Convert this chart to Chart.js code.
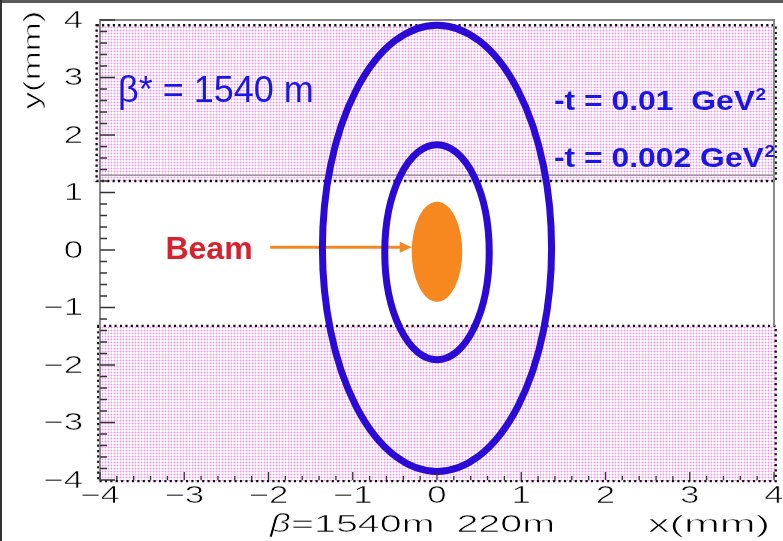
<!DOCTYPE html>
<html>
<head>
<meta charset="utf-8">
<script src="https://cdn.jsdelivr.net/npm/chart.js@4/dist/chart.umd.min.js"></script>
<style>
  html, body { margin: 0; padding: 0; background: #ffffff; }
  #wrap { width: 783px; height: 541px; position: relative; }
</style>
</head>
<body>
<div id="wrap"><canvas id="c" width="783" height="541"></canvas></div>
<script>
// Axis ticks (mm) and their printed labels
const tickValues = [-4, -3, -2, -1, 0, 1, 2, 3, 4];
const tickLabels = ['\u22124', '\u22123', '\u22122', '\u22121', '0', '1', '2', '3', '4'];

// Acceptance contours for the two -t values (half-axes and centre, mm)
const tLabels = ['0.01', '0.002'];
const contourHalfX = [1.36, 0.62];
const contourHalfY = [3.88, 1.87];
const contourCenterY = [0.03, -0.04];

// Beam spot (half-axes and centre, mm)
const beamHalfX = [0.30];
const beamHalfY = [0.87];
const beamCenterY = [-0.03];

// Shaded regions covered by the detectors (y limits, mm)
const shadeYFrom = [1.20, -4.02];
const shadeYTo = [3.91, -1.32];
const shadeXFrom = [-4.04, -4.02];
const shadeXTo = [4.02, 4.02];

const BLUE = '#2a0ad4';
const TEXT_BLUE = '#1a16e6';
const ORANGE = '#f7871f';
const AXIS_FONT = '24px "Liberation Sans", Arial, sans-serif';
const STRETCH = 1.45;

function makePinkPattern(ctx) {
  const t = document.createElement('canvas');
  t.width = 3; t.height = 3;
  const g = t.getContext('2d');
  g.fillStyle = '#ffffff'; g.fillRect(0, 0, 3, 3);
  g.fillStyle = '#fad6fa'; g.fillRect(0, 0, 3, 1); g.fillRect(0, 0, 1, 3);
  g.fillStyle = '#f48cf4'; g.fillRect(0, 0, 1, 1);
  return ctx.createPattern(t, 'repeat');
}

// Horizontally widened, thin-stroked text (axis lettering)
function wideText(ctx, text, x, y, align, sx, thin) {
  ctx.save();
  ctx.translate(x, y);
  ctx.scale(sx, 1);
  ctx.textAlign = align;
  ctx.fillText(text, 0, 0);
  ctx.strokeStyle = '#ffffff';
  ctx.lineWidth = thin === undefined ? 0.6 : thin;
  if (ctx.lineWidth > 0) ctx.strokeText(text, 0, 0);
  ctx.restore();
}

// Same, squeezed or widened to span a given width
function fitText(ctx, text, x0, x1, y) {
  const w = ctx.measureText(text).width;
  wideText(ctx, text, x0, y, 'left', (x1 - x0) / w);
}

const scenePlugin = {
  id: 'scene',
  beforeDatasetsDraw(chart) {
    const ctx = chart.ctx;
    const xs = chart.scales.x, ys = chart.scales.y;
    const X = v => xs.getPixelForValue(v);
    const Y = v => ys.getPixelForValue(v);

    // shaded detector regions
    const pat = makePinkPattern(ctx);
    for (let i = 0; i < shadeYFrom.length; i++) {
      const x0 = X(shadeXFrom[i]), x1 = X(shadeXTo[i]);
      const y0 = Y(shadeYTo[i]), y1 = Y(shadeYFrom[i]);
      ctx.save();
      ctx.fillStyle = pat;
      ctx.fillRect(x0, y0, x1 - x0, y1 - y0);
      ctx.restore();
    }
    // inner frame line of the upper region
    ctx.save();
    ctx.strokeStyle = '#9a9a9a';
    ctx.lineWidth = 1.5;
    ctx.beginPath();
    ctx.moveTo(X(-4), Y(1.30)); ctx.lineTo(X(4), Y(1.30));
    ctx.stroke();
    ctx.restore();
    // dotted outlines of the regions
    for (let i = 0; i < shadeYFrom.length; i++) {
      const x0 = X(shadeXFrom[i]), x1 = X(shadeXTo[i]);
      const y0 = Y(shadeYTo[i]), y1 = Y(shadeYFrom[i]);
      ctx.save();
      ctx.strokeStyle = '#111111';
      ctx.lineWidth = 2.4;
      ctx.setLineDash([2.2, 3.2]);
      ctx.strokeRect(x0, y0, x1 - x0, y1 - y0);
      ctx.restore();
    }

    // beam spot
    ctx.save();
    ctx.fillStyle = ORANGE;
    ctx.beginPath();
    ctx.ellipse(X(0), Y(beamCenterY[0]),
      X(beamHalfX[0]) - X(0), Y(0) - Y(beamHalfY[0]), 0, 0, Math.PI * 2);
    ctx.fill();
    ctx.restore();

    // arrow pointing at the beam
    const ay = Y(0.05);
    const ax0 = X(-1.98), ax1 = X(-beamHalfX[0]);
    ctx.save();
    ctx.strokeStyle = '#f08a24';
    ctx.fillStyle = '#f08a24';
    ctx.lineWidth = 3;
    ctx.beginPath();
    ctx.moveTo(ax0, ay); ctx.lineTo(ax1 - 10, ay);
    ctx.stroke();
    ctx.beginPath();
    ctx.moveTo(ax1, ay);
    ctx.lineTo(ax1 - 12, ay - 5.5);
    ctx.lineTo(ax1 - 12, ay + 5.5);
    ctx.closePath();
    ctx.fill();
    ctx.restore();

    // contours
    for (let i = 0; i < contourHalfX.length; i++) {
      ctx.save();
      ctx.strokeStyle = BLUE;
      ctx.lineWidth = 7;
      ctx.beginPath();
      ctx.ellipse(X(0), Y(contourCenterY[i]),
        X(contourHalfX[i]) - X(0), Y(0) - Y(contourHalfY[i]), 0, 0, Math.PI * 2);
      ctx.stroke();
      ctx.restore();
    }
  },
  afterDraw(chart) {
    const ctx = chart.ctx;
    const xs = chart.scales.x, ys = chart.scales.y;
    const X = v => xs.getPixelForValue(v);
    const Y = v => ys.getPixelForValue(v);
    const a = chart.chartArea;

    // frame
    ctx.save();
    ctx.strokeStyle = '#8a8a8a';
    ctx.lineWidth = 2;
    ctx.beginPath();
    ctx.moveTo(a.left, a.bottom); ctx.lineTo(a.left, a.top);
    ctx.lineTo(a.right, a.top); ctx.lineTo(a.right, Y(-1.32));
    ctx.stroke();
    ctx.restore();

    // inward ticks, major every 1 mm, minor every 0.2 mm
    ctx.save();
    ctx.strokeStyle = '#333333';
    ctx.lineWidth = 1.3;
    ctx.beginPath();
    for (let k = -20; k <= 20; k++) {
      const v = k / 5;
      const major = k % 5 === 0;
      const py = Y(v);
      ctx.moveTo(a.left, py); ctx.lineTo(a.left + (major ? 15 : 7), py);
      const pxv = X(v);
      ctx.moveTo(pxv, a.bottom); ctx.lineTo(pxv, a.bottom - (major ? 8 : 4));
    }
    ctx.stroke();
    ctx.restore();

    // tick labels from the axis ticks
    ctx.save();
    ctx.fillStyle = '#000000';
    ctx.font = AXIS_FONT;
    ctx.textBaseline = 'middle';
    ys.ticks.forEach(t => {
      const i = tickValues.indexOf(t.value);
      if (i >= 0) wideText(ctx, tickLabels[i], 83, ys.getPixelForValue(t.value) + 1, 'right', STRETCH);
    });
    xs.ticks.forEach(t => {
      const i = tickValues.indexOf(t.value);
      if (i >= 0) wideText(ctx, tickLabels[i], xs.getPixelForValue(t.value), a.bottom + 16, 'center', STRETCH);
    });
    ctx.restore();

    // axis titles
    ctx.save();
    ctx.fillStyle = '#000000';
    ctx.font = AXIS_FONT;
    ctx.textBaseline = 'alphabetic';
    fitText(ctx, 'x(mm)', 648, 770, 532);
    ctx.save();
    ctx.font = 'italic 25px "Liberation Sans", Arial, sans-serif';
    wideText(ctx, '\u03b2', 270, 532, 'left', 1.45);
    ctx.restore();
    fitText(ctx, '=1540m  220m', 291, 555, 532);
    ctx.translate(40, 60);
    ctx.rotate(-Math.PI / 2);
    wideText(ctx, 'y(mm)', 0, 0, 'center', STRETCH);
    ctx.restore();

    // annotations
    ctx.save();
    ctx.fillStyle = TEXT_BLUE;
    ctx.font = '36px "Liberation Sans", Arial, sans-serif';
    ctx.textBaseline = 'alphabetic';
    ctx.textAlign = 'left';
    ctx.fillText('\u03b2* = 1540 m', 118, 102);

    const tLines = ['-t = ' + tLabels[0] + '  GeV', '-t = ' + tLabels[1] + ' GeV'];
    const tBase = [110, 167];
    tLines.forEach((s, i) => {
      ctx.save();
      ctx.font = 'bold 27px "Liberation Sans", Arial, sans-serif';
      ctx.translate(554, tBase[i]);
      ctx.scale(1.18, 1);
      ctx.fillText(s, 0, 0);
      const w = ctx.measureText(s).width;
      ctx.font = 'bold 16px "Liberation Sans", Arial, sans-serif';
      ctx.fillText('2', w + 0.5, -10);
      ctx.restore();
    });

    ctx.fillStyle = '#d8202e';
    ctx.font = 'bold 32px "Liberation Sans", Arial, sans-serif';
    ctx.textAlign = 'center';
    ctx.fillText('Beam', 209, 259);
    ctx.restore();

    // outer picture border
    ctx.save();
    ctx.fillStyle = '#5a5a5a';
    ctx.fillRect(0, 0, chart.width, 3);
    ctx.fillStyle = '#333333';
    ctx.fillRect(0, 0, 2, chart.height);
    ctx.restore();
  }
};

new Chart(document.getElementById('c'), {
  type: 'scatter',
  data: { datasets: [] },
  options: {
    responsive: false,
    animation: false,
    events: [],
    layout: { padding: { left: 0, right: 9, top: 20, bottom: 0 } },
    plugins: { legend: { display: false }, tooltip: { enabled: false } },
    scales: {
      x: {
        type: 'linear', min: -4, max: 4,
        ticks: { display: false, stepSize: 1 },
        grid: { display: false, drawTicks: false },
        border: { display: false },
        afterFit(s) { s.height = 61; }
      },
      y: {
        type: 'linear', min: -4, max: 4,
        ticks: { display: false, stepSize: 1 },
        grid: { display: false, drawTicks: false },
        border: { display: false },
        afterFit(s) { s.width = 100; }
      }
    }
  },
  plugins: [scenePlugin]
});
</script>
</body>
</html>
